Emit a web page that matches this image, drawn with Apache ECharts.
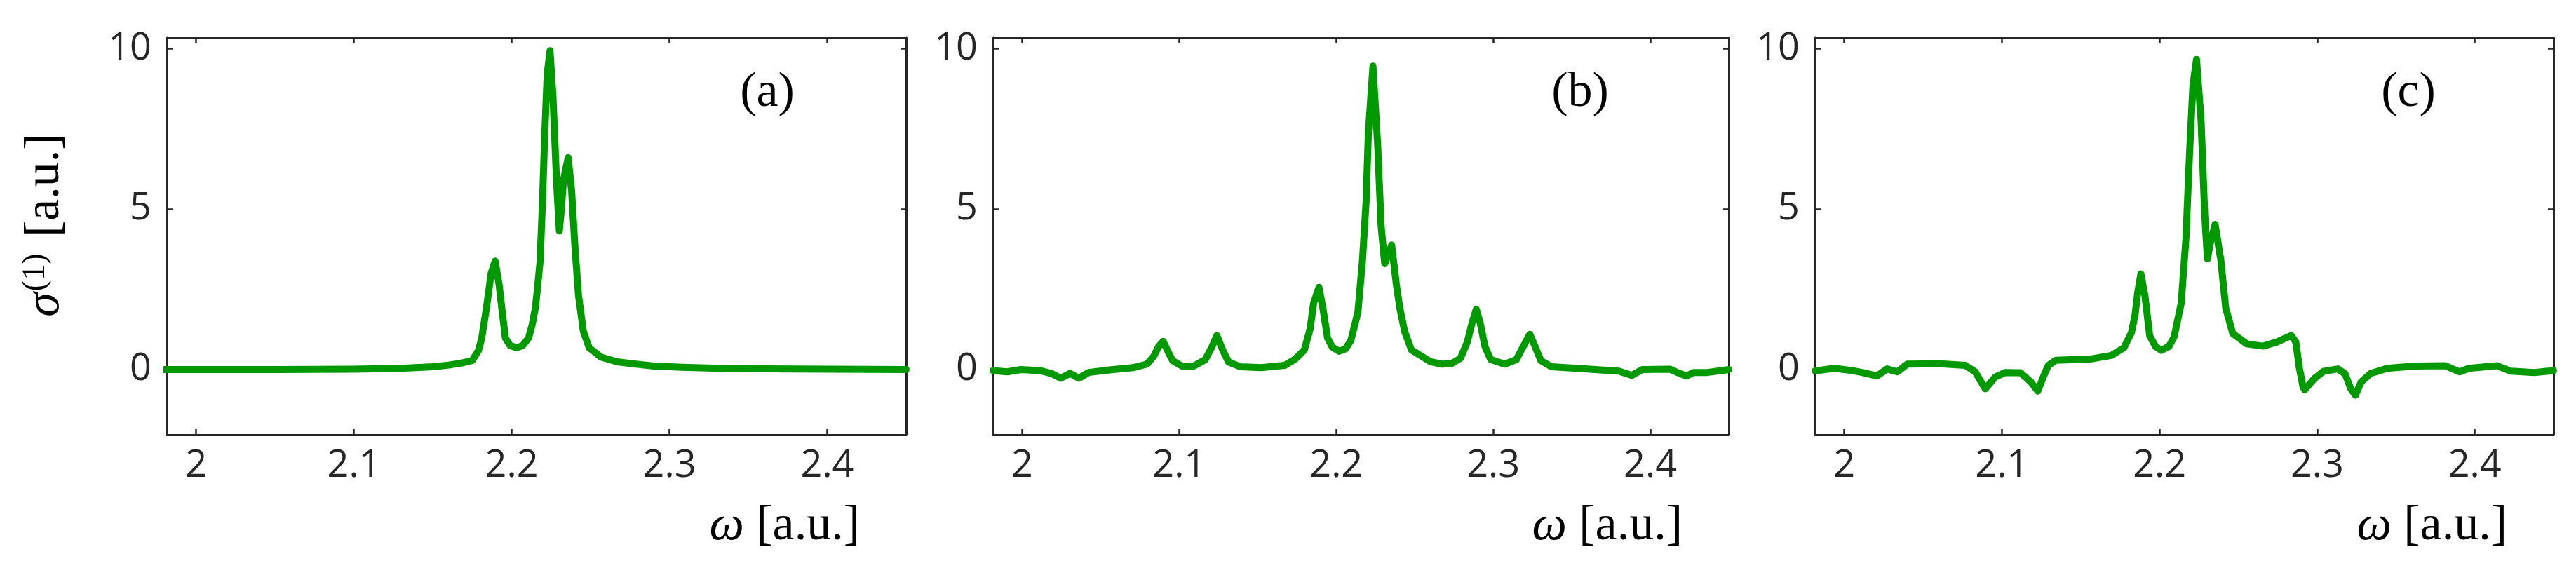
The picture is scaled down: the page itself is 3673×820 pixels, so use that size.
<!DOCTYPE html>
<html>
<head>
<meta charset="utf-8">
<script src="https://cdn.jsdelivr.net/npm/echarts@6/dist/echarts.min.js"></script>
<style>
html,body{margin:0;padding:0;background:#fff;}
#chart{width:3673px;height:820px;}
</style>
</head>
<body>
<div id="chart"></div>
<script>
// ---- data ----
const xTicks = [2, 2.1, 2.2, 2.3, 2.4];
const yTicks = [0, 5, 10];
const panelLabels = ['(a)', '(b)', '(c)'];

const omegaA = [1.98, 2.05, 2.10, 2.13, 2.15, 2.16, 2.168, 2.175, 2.179, 2.181, 2.184, 2.187, 2.1895, 2.192, 2.194, 2.196, 2.199, 2.2033, 2.207, 2.2107, 2.213, 2.215, 2.2165, 2.218, 2.2195, 2.221, 2.2225, 2.2243, 2.2262, 2.2284, 2.2302, 2.2315, 2.2328, 2.2358, 2.238, 2.2402, 2.2424, 2.2454, 2.2491, 2.2565, 2.2669, 2.2787, 2.29, 2.308, 2.34, 2.40, 2.45];
const sigmaA = [0, 0, 0.01, 0.04, 0.09, 0.14, 0.2, 0.28, 0.6, 0.98, 1.92, 3.0, 3.38, 2.65, 1.8, 0.98, 0.75, 0.68, 0.75, 0.98, 1.4, 1.92, 2.6, 3.38, 5.2, 7.38, 9.2, 9.93, 8.47, 5.9, 4.32, 5.0, 5.9, 6.6, 5.56, 3.74, 2.29, 1.2, 0.68, 0.39, 0.24, 0.17, 0.11, 0.07, 0.03, 0.01, 0];

const omegaB = [1.9815, 1.9904, 1.9993, 2.0112, 2.0186, 2.0246, 2.0305, 2.0362, 2.0424, 2.0557, 2.0706, 2.0795, 2.0839, 2.0869, 2.0898, 2.0928, 2.0958, 2.1017, 2.1092, 2.1166, 2.121, 2.124, 2.1277, 2.1314, 2.1388, 2.1522, 2.1671, 2.1737, 2.1797, 2.1834, 2.1856, 2.189, 2.1915, 2.1945, 2.1975, 2.2019, 2.206, 2.2093, 2.2138, 2.2167, 2.219, 2.2205, 2.2234, 2.2264, 2.2286, 2.2309, 2.2325, 2.2353, 2.2383, 2.2405, 2.2435, 2.2479, 2.2598, 2.2672, 2.2732, 2.2791, 2.2835, 2.2865, 2.2892, 2.2917, 2.2947, 2.2984, 2.3073, 2.3147, 2.3191, 2.3233, 2.3266, 2.3303, 2.337, 2.3533, 2.38, 2.3882, 2.3948, 2.4127, 2.4186, 2.4231, 2.4275, 2.4364, 2.45];
const sigmaB = [-0.03, -0.07, 0.0, -0.03, -0.12, -0.27, -0.12, -0.27, -0.09, -0.01, 0.06, 0.17, 0.42, 0.72, 0.88, 0.57, 0.28, 0.11, 0.11, 0.31, 0.72, 1.06, 0.61, 0.24, 0.09, 0.06, 0.13, 0.32, 0.61, 1.27, 2.07, 2.56, 1.92, 0.98, 0.7, 0.57, 0.65, 0.9, 1.78, 3.38, 5.2, 7.38, 9.45, 7.0, 4.47, 3.3, 3.5, 3.88, 2.65, 1.92, 1.2, 0.61, 0.25, 0.17, 0.18, 0.35, 0.86, 1.45, 1.88, 1.45, 0.72, 0.31, 0.17, 0.31, 0.72, 1.1, 0.72, 0.28, 0.09, 0.04, -0.05, -0.18, 0.0, 0.01, -0.12, -0.2, -0.09, -0.09, 0.0];

const omegaC = [1.9815, 1.9937, 2.0048, 2.0113, 2.0208, 2.0272, 2.0337, 2.04, 2.0608, 2.0768, 2.0831, 2.0863, 2.0895, 2.0959, 2.1023, 2.1119, 2.1183, 2.1228, 2.1263, 2.1295, 2.1343, 2.1567, 2.1694, 2.1774, 2.1822, 2.1845, 2.1862, 2.1882, 2.1908, 2.1938, 2.1975, 2.2012, 2.206, 2.2093, 2.2138, 2.2168, 2.219, 2.2212, 2.2235, 2.2264, 2.2287, 2.2304, 2.2325, 2.2353, 2.239, 2.242, 2.2465, 2.2554, 2.2657, 2.2746, 2.2835, 2.2865, 2.2887, 2.291, 2.2921, 2.2984, 2.3043, 2.3132, 2.3177, 2.3214, 2.3243, 2.328, 2.334, 2.3444, 2.3622, 2.3814, 2.3903, 2.3963, 2.4141, 2.423, 2.4378, 2.45];
const sigmaC = [-0.04, 0.04, -0.03, -0.09, -0.2, 0.02, -0.07, 0.17, 0.18, 0.13, -0.07, -0.34, -0.6, -0.23, -0.09, -0.1, -0.38, -0.67, -0.23, 0.13, 0.29, 0.33, 0.44, 0.68, 1.15, 1.7, 2.4, 2.98, 2.29, 1.05, 0.72, 0.6, 0.72, 1.02, 2.07, 4.1, 6.65, 8.84, 9.66, 7.74, 4.83, 3.45, 4.0, 4.52, 3.38, 1.92, 1.12, 0.8, 0.73, 0.86, 1.06, 0.86, 0.06, -0.53, -0.63, -0.27, -0.05, 0.02, -0.13, -0.6, -0.8, -0.38, -0.12, 0.04, 0.11, 0.12, -0.07, 0.04, 0.12, -0.05, -0.09, -0.03];

const xMin = 1.9815, xMax = 2.45;
const yMin = -2.03, yMax = 10.33;

// ---- layout ----
const W = 3673, H = 820;
const panels = [
  {left: 238, right: 1292, labelX: 1094, omega: omegaA, sigma: sigmaA},
  {left: 1416, right: 2465, labelX: 2253, omega: omegaB, sigma: sigmaB},
  {left: 2588, right: 3641, labelX: 3434, omega: omegaC, sigma: sigmaC}
];
const gridTop = 54, gridBottomPx = 620;
const axisColor = '#262626';
const serif = '"Liberation Serif", "DejaVu Serif", serif';
const sans = '"Open Sans", "Noto Sans", sans-serif';
const serifSize = 70;

const grids = [], xAxes = [], yAxes = [], series = [], titles = [];
panels.forEach((p, i) => {
  grids.push({left: p.left, width: p.right - p.left, top: gridTop, height: gridBottomPx - gridTop, containLabel: false});
  const lineCfg = {show: true, onZero: false, lineStyle: {color: axisColor, width: 3}};
  const tickCfg = {show: true, inside: true, length: 8, lineStyle: {color: axisColor, width: 2.5}};
  // bottom x axis
  xAxes.push({
    type: 'value', gridIndex: i, position: 'bottom', min: xMin, max: xMax,
    axisLine: lineCfg,
    axisTick: Object.assign({}, tickCfg, {customValues: xTicks}),
    axisLabel: {customValues: xTicks, color: axisColor, fontFamily: sans, fontSize: 54, margin: 18,
      formatter: v => String(Math.round(v * 10) / 10)},
    splitLine: {show: false},
    name: '{i|ω} [a.u.]', nameLocation: 'end', nameGap: -66,
    nameTextStyle: {fontFamily: serif, fontSize: serifSize, color: '#000', align: 'right', verticalAlign: 'top',
      padding: [96, 0, 0, 0],
      rich: {i: {fontFamily: serif, fontSize: serifSize, fontStyle: 'italic', color: '#000'}}}
  });
  // top mirror axis
  xAxes.push({
    type: 'value', gridIndex: i, position: 'top', min: xMin, max: xMax,
    axisLine: lineCfg,
    axisTick: Object.assign({}, tickCfg, {customValues: xTicks}),
    axisLabel: {show: false}, splitLine: {show: false}
  });
  // left y axis
  const yLeft = {
    type: 'value', gridIndex: i, position: 'left', min: yMin, max: yMax,
    axisLine: lineCfg,
    axisTick: Object.assign({}, tickCfg, {customValues: yTicks}),
    axisLabel: {customValues: yTicks, color: axisColor, fontFamily: sans, fontSize: 54, margin: 22},
    splitLine: {show: false}
  };
  if (i === 0) {
    Object.assign(yLeft, {
      name: '{i|σ}{sup|(1)} [a.u.]', nameLocation: 'middle', nameGap: 136,
      nameTextStyle: {fontFamily: serif, fontSize: serifSize, color: '#000', padding: [0, 0, 0, 32],
        rich: {
          i: {fontFamily: serif, fontSize: serifSize, fontStyle: 'italic', color: '#000'},
          sup: {fontFamily: serif, fontSize: 46, color: '#000', verticalAlign: 'top', padding: [0, 6, 28, 2]}
        }}
    });
  }
  yAxes.push(yLeft);
  // right mirror axis
  yAxes.push({
    type: 'value', gridIndex: i, position: 'right', min: yMin, max: yMax,
    axisLine: lineCfg,
    axisTick: Object.assign({}, tickCfg, {customValues: yTicks}),
    axisLabel: {show: false}, splitLine: {show: false}
  });
  series.push({
    type: 'line', xAxisIndex: i * 2, yAxisIndex: i * 2,
    data: p.omega.map((w, k) => [w, p.sigma[k]]),
    showSymbol: false, symbol: 'none', smooth: false, clip: true,
    lineStyle: {color: '#009900', width: 10, join: 'round', cap: 'round'},
    animation: false
  });
  titles.push({
    text: panelLabels[i], left: p.labelX, top: 98, textAlign: 'center', padding: 0,
    textStyle: {fontFamily: serif, fontSize: serifSize, fontWeight: 'normal', color: '#000'}
  });
});

const chart = echarts.init(document.getElementById('chart'), null, {renderer: 'canvas', width: W, height: H});
chart.setOption({
  backgroundColor: '#fff',
  animation: false,
  title: titles,
  grid: grids,
  xAxis: xAxes,
  yAxis: yAxes,
  series: series
});
</script>
</body>
</html>
